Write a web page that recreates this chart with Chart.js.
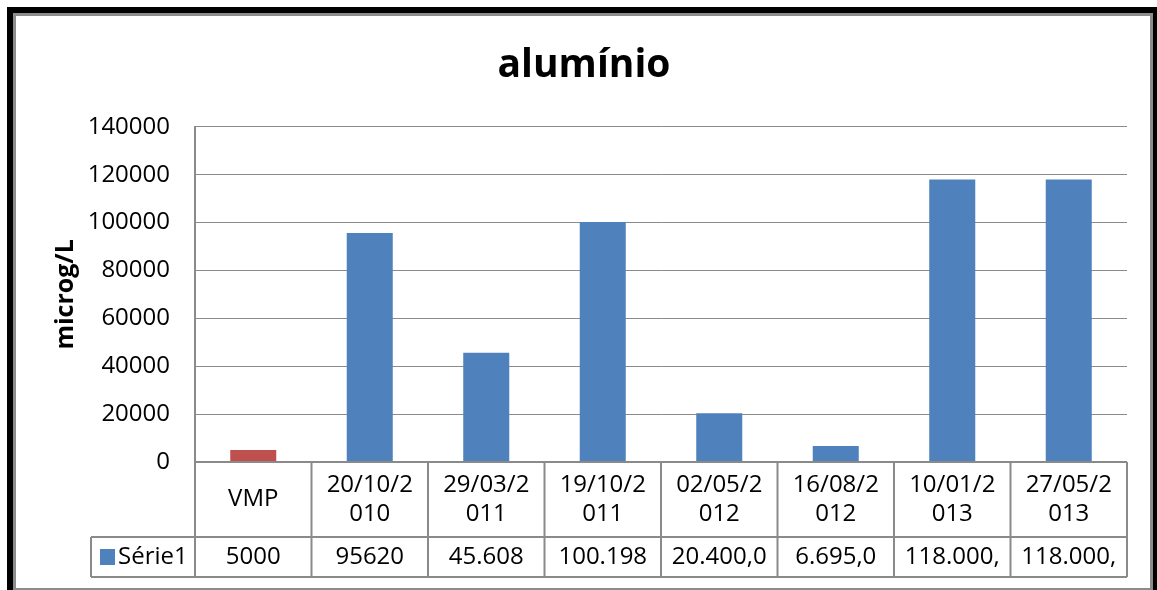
<!DOCTYPE html>
<html lang="pt">
<head>
    <meta charset="UTF-8">
    <title>alumínio</title>
    <script src="https://cdn.jsdelivr.net/npm/chart.js"></script>
    <style>
        body {
            margin: 0;
            background: #fff;
            overflow: hidden;
        }
        .moldura {
            position: absolute;
            left: 7px;
            top: 7px;
            border: 6px solid #000;
        }
        .interna {
            border: 3px solid #8c8c8c;
            width: 1134px;
            height: 572px;
            background: #fff;
        }
        .grafico {
            position: relative;
            width: 1134px;
            height: 572px;
        }
    </style>
</head>
<body>

<div class="moldura">
    <div class="interna">
        <div class="grafico">
            <canvas id="grafico_aluminio"></canvas>
        </div>
    </div>
</div>

<script>
    // dados
    const categorias = ['VMP', '20/10/2010', '29/03/2011', '19/10/2011', '02/05/2012', '16/08/2012', '10/01/2013', '27/05/2013'];
    const valores = [5000, 95620, 45608, 100198, 20400, 6695, 118000, 118000];
    const valoresTabela = ['5000', '95620', '45.608', '100.198', '20.400,0', '6.695,0', '118.000,', '118.000,'];
    const nomeSerie = 'Série1';
    const ticksY = [0, 20000, 40000, 60000, 80000, 100000, 120000, 140000];

    const azul = '#4f81bd';
    const vermelho = '#c0504d';
    const cinza = '#8a8a8a';
    const fonte = "'Open Sans', sans-serif";

    Chart.defaults.font.family = fonte;
    Chart.defaults.color = '#000';

    // quebra as datas como o Excel fez (7 caracteres por linha)
    function quebrar(txt) {
        return txt.length > 7 ? [txt.slice(0, 7), txt.slice(7)] : [txt];
    }

    // desenha a tabela de dados abaixo do eixo
    const tabelaDados = {
        id: 'tabelaDados',
        afterDraw(chart) {
            const ctx = chart.ctx;
            const x = chart.scales.x;
            const area = chart.chartArea;
            const n = categorias.length;
            const larg = (area.right - area.left) / n;
            const yEixo = area.bottom;
            const yMeio = yEixo + 75;
            const yFim = yEixo + 115;
            const xLegenda = 75;

            ctx.save();
            ctx.strokeStyle = cinza;
            ctx.lineWidth = 2;
            ctx.beginPath();
            // linhas horizontais
            ctx.moveTo(area.left, yEixo); ctx.lineTo(area.right, yEixo);
            ctx.moveTo(xLegenda, yMeio); ctx.lineTo(area.right, yMeio);
            ctx.moveTo(xLegenda, yFim); ctx.lineTo(area.right, yFim);
            // linhas verticais
            for (let i = 0; i <= n; i++) {
                const xi = x.getPixelForValue(i) - larg / 2;
                ctx.moveTo(xi, yEixo); ctx.lineTo(xi, yFim);
            }
            ctx.moveTo(xLegenda, yMeio); ctx.lineTo(xLegenda, yFim);
            ctx.stroke();

            ctx.fillStyle = '#000';
            ctx.font = '24px ' + fonte;
            ctx.textAlign = 'center';
            ctx.textBaseline = 'middle';
            const meioCat = (yEixo + yMeio) / 2;
            const meioVal = (yMeio + yFim) / 2;
            categorias.forEach((c, i) => {
                const xc = x.getPixelForValue(i);
                const linhas = quebrar(c);
                const alt = 29;
                const y0 = meioCat - (linhas.length - 1) * alt / 2;
                linhas.forEach((l, k) => ctx.fillText(l, xc, y0 + k * alt));
                ctx.fillText(valoresTabela[i], xc, meioVal);
            });

            // legenda da série
            ctx.fillStyle = azul;
            ctx.fillRect(xLegenda + 9, meioVal - 8, 15, 16);
            ctx.fillStyle = '#000';
            ctx.textAlign = 'left';
            ctx.fillText(nomeSerie, xLegenda + 27, meioVal);
            ctx.restore();
        }
    };

    const ctx = document.getElementById('grafico_aluminio').getContext('2d');
    new Chart(ctx, {
        type: 'bar',
        data: {
            labels: categorias,
            datasets: [{
                label: nomeSerie,
                data: valores,
                backgroundColor: valores.map((_, i) => i === 0 ? vermelho : azul),
                borderWidth: 0,
                barPercentage: 0.395,
                categoryPercentage: 1
            }]
        },
        options: {
            responsive: true,
            maintainAspectRatio: false,
            animation: false,
            layout: {
                padding: { left: 25, top: 0, right: 23, bottom: 126 }
            },
            plugins: {
                legend: { display: false },
                tooltip: { enabled: false },
                title: {
                    display: true,
                    text: 'alumínio',
                    color: '#000',
                    font: { size: 39, weight: 'bold' },
                    padding: { top: 26, bottom: 38 }
                }
            },
            scales: {
                x: {
                    display: false
                },
                y: {
                    min: 0,
                    max: 140000,
                    afterFit(scale) { scale.width = 154; },
                    afterBuildTicks(scale) { scale.ticks = ticksY.map(v => ({ value: v })); },
                    ticks: {
                        font: { size: 24 },
                        color: '#000',
                        padding: 25,
                        callback: v => String(v)
                    },
                    grid: {
                        color: cinza,
                        lineWidth: 1,
                        drawTicks: false
                    },
                    border: { display: true, color: cinza, width: 2 },
                    title: {
                        display: true,
                        text: 'microg/L',
                        color: '#000',
                        font: { size: 25, weight: 'bold' },
                        padding: { top: 10, bottom: 0 }
                    }
                }
            }
        },
        plugins: [tabelaDados]
    });
</script>

</body>
</html>
